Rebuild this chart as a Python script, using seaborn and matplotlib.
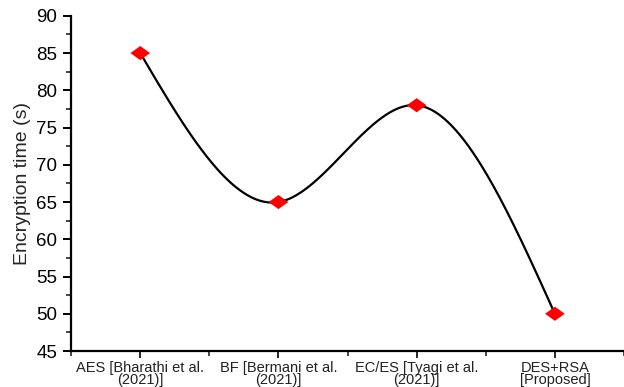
import numpy as np
import pandas as pd
import matplotlib
matplotlib.use("Agg")
import matplotlib.pyplot as plt
import seaborn as sns
from matplotlib.path import Path
from matplotlib.ticker import MultipleLocator

methods = ["AES [Bharathi et al.\n(2021)]", "BF [Bermani et al.\n(2021)]",
           "EC/ES [Tyagi et al.\n(2021)]", "DES+RSA\n[Proposed]"]
enc_time = [85, 65, 78, 50]

data = pd.DataFrame({"pos": np.arange(len(methods)), "time": enc_time})


def natural_spline(x, y, n=300):
    # natural cubic spline through the points, only for drawing the smooth line
    x = np.asarray(x, float)
    y = np.asarray(y, float)
    k = len(x)
    h = np.diff(x)
    A = np.zeros((k, k))
    b = np.zeros(k)
    A[0, 0] = A[-1, -1] = 1
    for i in range(1, k - 1):
        A[i, i - 1] = h[i - 1]
        A[i, i] = 2 * (h[i - 1] + h[i])
        A[i, i + 1] = h[i]
        b[i] = 6 * ((y[i + 1] - y[i]) / h[i] - (y[i] - y[i - 1]) / h[i - 1])
    M = np.linalg.solve(A, b)
    xs = np.linspace(x[0], x[-1], n)
    idx = np.clip(np.searchsorted(x, xs) - 1, 0, k - 2)
    x0, x1 = x[idx], x[idx + 1]
    hh = x1 - x0
    ys = (M[idx] * (x1 - xs) ** 3 / (6 * hh) + M[idx + 1] * (xs - x0) ** 3 / (6 * hh)
          + (y[idx] / hh - M[idx] * hh / 6) * (x1 - xs)
          + (y[idx + 1] / hh - M[idx + 1] * hh / 6) * (xs - x0))
    return xs, ys


sx, sy = natural_spline(data["pos"], data["time"])
curve = pd.DataFrame({"pos": sx, "time": sy})

sns.set_style("ticks")
plt.rcParams["font.family"] = ["Liberation Sans", "DejaVu Sans"]

fig = plt.figure(figsize=(6.24, 3.87), dpi=100)
ax = fig.add_axes([0.114, 0.093, 0.886, 0.866])

sns.lineplot(data=curve, x="pos", y="time", color="black", linewidth=1.6, ax=ax)
diamond = Path([(-1, 0), (0, 0.72), (1, 0), (0, -0.72), (-1, 0)],
               [Path.MOVETO, Path.LINETO, Path.LINETO, Path.LINETO, Path.CLOSEPOLY])
sns.scatterplot(data=data, x="pos", y="time", marker=diamond, s=200, color="#ff0000",
                edgecolor="none", zorder=5, ax=ax)

ax.set_xlim(-0.5, 3.5)
ax.set_ylim(45, 90)
ax.set_xticks(range(len(methods)))
ax.set_xticklabels(methods, fontsize=10.5, color="#222222", linespacing=0.88)
ax.xaxis.set_minor_locator(MultipleLocator(1, offset=0.5))
ax.yaxis.set_major_locator(MultipleLocator(5))
ax.yaxis.set_minor_locator(MultipleLocator(2.5))
ax.tick_params(axis="y", labelsize=13.5, colors="black", length=6, width=1.4, pad=4)
ax.tick_params(axis="x", length=5, width=1.4, pad=2)
ax.tick_params(which="minor", length=3.5, width=1.2)
ax.set_xlabel("")
ax.set_ylabel("Encryption time (s)", fontsize=14, labelpad=4)

for s in ["top", "right"]:
    ax.spines[s].set_visible(False)
for s in ["left", "bottom"]:
    ax.spines[s].set_linewidth(1.6)
    ax.spines[s].set_color("black")

fig.savefig("out.png", dpi=100)
